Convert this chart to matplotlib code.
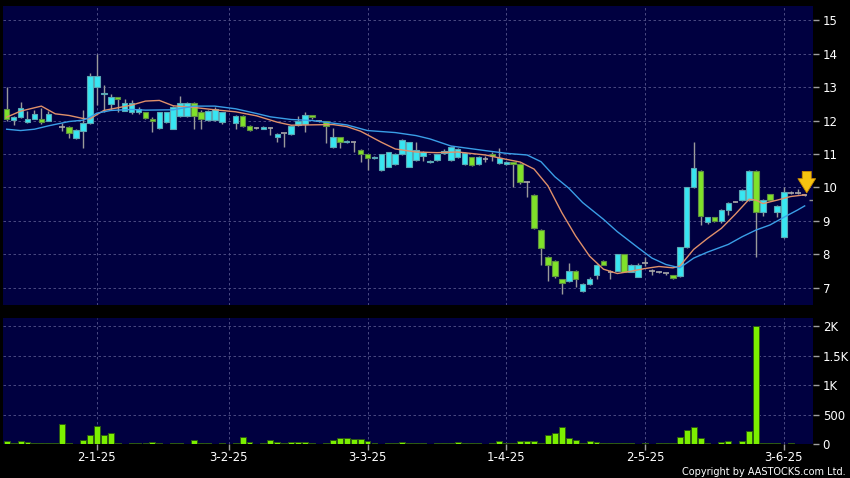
import numpy as np
import matplotlib
matplotlib.use('Agg')
import matplotlib.pyplot as plt

nan = np.nan

# daily OHLC (bar index 0..115), nan = no trade
opens = [12.33, 12.01, 12.11, 11.95, 12.06, 12.04, 12.00, nan, 11.80, 11.82,
         11.49, 11.70, 11.92, 13.01, 12.78, 12.48, 12.69, 12.29, 12.26, 12.25,
         12.24, 12.04, 11.77, 11.95, 11.76, 12.13, 12.13, 12.53, 12.24, 12.01,
         12.01, 11.95, nan, 11.92, 12.13, 11.84, 11.77, 11.75, 11.77, 11.50,
         11.62, 11.60, 11.86, 11.89, 12.16, 12.00, 11.98, 11.20, 11.50, 11.35,
         11.35, 11.12, 10.99, 10.87, 10.52, 10.62, 10.70, 11.00, 10.62, 10.82,
         10.94, 10.75, 10.82, 11.02, 10.82, 10.90, 10.69, 10.90, 10.69, 10.85,
         11.00, 10.72, 10.70, 10.75, 10.70, 10.16, 9.77, 8.73, 7.92, 7.81,
         7.26, 7.21, 7.52, 6.91, 7.11, 7.39, 7.81, 7.47, 7.52, 8.00,
         7.49, 7.34, 7.74, 7.50, 7.49, 7.44, 7.39, 7.36, 8.21, 10.00,
         10.50, 8.96, 9.11, 9.00, 9.33, 9.58, 9.63, 9.63, 10.50, 9.26,
         9.80, 9.26, 8.51, 9.84, 9.84, 9.78]
highs = [13.00, 12.13, 12.54, 12.29, 12.32, 12.36, 12.29, nan, 11.93, 11.84,
         11.74, 12.30, 13.41, 14.00, 13.06, 12.80, 12.70, 12.63, 12.60, 12.40,
         12.26, 12.10, 12.26, 12.26, 12.43, 12.73, 12.55, 12.55, 12.30, 12.30,
         12.40, 12.26, nan, 12.15, 12.15, 11.86, 11.80, 11.84, 11.80, 11.62,
         11.64, 11.86, 12.13, 12.26, 12.17, 12.02, 12.00, 11.77, 11.52, 11.42,
         11.37, 11.14, 11.00, 10.94, 11.00, 11.07, 11.02, 11.45, 11.37, 11.37,
         11.10, 10.83, 11.00, 11.15, 11.25, 11.17, 11.06, 10.92, 10.94, 10.95,
         11.05, 11.17, 10.78, 10.76, 10.72, 10.18, 9.80, 8.75, 7.94, 7.83,
         7.28, 7.74, 7.54, 7.14, 7.34, 7.72, 7.83, 7.54, 8.02, 8.02,
         7.71, 7.75, 7.93, 7.56, 7.52, 7.46, 7.40, 8.23, 10.02, 11.37,
         10.52, 9.13, 9.13, 9.35, 9.57, 9.60, 9.95, 10.52, 10.52, 9.65,
         9.82, 9.47, 10.00, 9.88, 9.95, 9.82]
lows = [12.00, 11.87, 12.08, 11.94, 12.04, 11.89, 11.98, nan, 11.70, 11.47,
        11.45, 11.18, 11.90, 12.46, 12.26, 12.31, 12.26, 12.27, 12.20, 12.20,
        12.05, 11.67, 11.74, 11.93, 11.74, 12.10, 12.10, 11.74, 11.74, 11.98,
        11.98, 11.90, nan, 11.74, 11.80, 11.70, 11.74, 11.74, 11.57, 11.37,
        11.22, 11.58, 11.84, 11.67, 12.05, 11.97, 11.32, 11.18, 11.19, 11.33,
        11.07, 10.75, 10.52, 10.85, 10.50, 10.60, 10.68, 10.98, 10.60, 10.80,
        10.80, 10.73, 10.80, 11.00, 10.80, 10.88, 10.67, 10.63, 10.67, 10.75,
        10.80, 10.70, 10.66, 10.02, 10.10, 9.71, 8.75, 7.69, 7.20, 7.30,
        6.82, 7.19, 7.04, 6.89, 7.09, 7.26, 7.67, 7.26, 7.50, 7.47,
        7.47, 7.32, 7.64, 7.38, 7.45, 7.40, 7.28, 7.33, 8.19, 9.98,
        8.88, 8.90, 8.98, 8.95, 9.18, 9.56, 9.61, 9.61, 7.93, 9.15,
        9.61, 9.12, 8.49, 9.80, 9.80, 9.76]
closes = [12.04, 12.11, 12.36, 12.05, 12.19, 11.97, 12.18, nan, 11.80, 11.64,
          11.72, 11.92, 13.33, 13.33, 12.83, 12.69, 12.63, 12.51, 12.51, 12.33,
          12.07, 11.98, 12.24, 12.24, 12.41, 12.53, 12.53, 12.13, 12.04, 12.28,
          12.33, 12.24, nan, 12.13, 11.84, 11.72, 11.77, 11.82, 11.77, 11.60,
          11.62, 11.84, 12.00, 12.16, 12.10, 12.00, 11.84, 11.50, 11.35, 11.40,
          11.35, 11.00, 10.89, 10.92, 10.99, 11.05, 11.00, 11.42, 11.35, 11.12,
          11.07, 10.80, 10.99, 11.10, 11.20, 11.15, 11.04, 10.67, 10.92, 10.85,
          10.94, 10.87, 10.77, 10.71, 10.16, 10.16, 8.78, 8.18, 7.69, 7.36,
          7.14, 7.52, 7.26, 7.12, 7.26, 7.69, 7.69, 7.48, 8.00, 7.49,
          7.69, 7.69, 7.74, 7.50, 7.49, 7.44, 7.31, 8.21, 10.00, 10.57,
          9.15, 9.11, 9.00, 9.33, 9.55, 9.58, 9.93, 10.50, 9.28, 9.63,
          9.63, 9.45, 9.85, 9.84, 9.84, 9.78]

# volume in thousand shares
volumes = [45, 17, 50, 40, 17, 15, 15, 15, 340, 10,
           5, 62, 160, 300, 150, 185, 15, 2, 22, 15,
           15, 30, 25, 2, 20, 10, 8, 70, 20, 20,
           3, 25, 4, 12, 120, 30, 5, 15, 65, 40,
           25, 40, 40, 30, 20, 5, 20, 60, 100, 100,
           80, 80, 50, 20, 5, 18, 15, 35, 15, 15,
           15, 5, 15, 10, 15, 35, 15, 15, 15, 2,
           15, 45, 20, 20, 55, 55, 55, 25, 160, 185,
           290, 100, 70, 15, 55, 30, 25, 25, 25, 15,
           15, 5, 10, 2, 10, 25, 25, 115, 245, 290,
           105, 15, 2, 40, 50, 2, 50, 220, 2000, 15,
           15, 15, 2, 25, 0, 0]

# moving averages
ma_short_idx = [0, 2, 5, 7, 9, 11, 12, 14, 16, 18, 20, 22, 24, 27, 30, 33, 36, 39,
                41, 44, 47, 49, 51, 54, 56, 59, 62, 65, 69, 72, 74, 76, 78, 80,
                82, 84, 86, 88, 90, 92, 94, 96, 97, 99, 101, 103, 105, 107, 108,
                109, 111, 113, 115]
ma_short = [12.10, 12.28, 12.43, 12.20, 12.15, 12.06, 12.05, 12.30, 12.38, 12.46,
            12.58, 12.60, 12.44, 12.39, 12.32, 12.26, 12.14, 11.95, 11.86, 11.87,
            11.88, 11.82, 11.68, 11.35, 11.15, 11.06, 11.04, 11.06, 10.97, 10.84,
            10.76, 10.55, 10.05, 9.25, 8.55, 7.95, 7.56, 7.43, 7.50, 7.58,
            7.64, 7.60, 7.65, 8.15, 8.48, 8.78, 9.20, 9.65, 9.62, 9.52,
            9.62, 9.73, 9.78]
ma_long_idx = [0, 2, 4, 6, 9, 11, 12, 13, 15, 18, 20, 24, 27, 30, 33, 36, 38, 41,
               44, 49, 52, 56, 59, 61, 64, 69, 72, 75, 77, 79, 81, 83, 86, 88,
               91, 93, 95, 97, 99, 101, 104, 106, 108, 110, 112, 114, 115]
ma_long = [11.74, 11.70, 11.74, 11.84, 11.97, 12.01, 12.10, 12.22, 12.30, 12.33,
           12.31, 12.32, 12.43, 12.43, 12.35, 12.21, 12.11, 12.03, 12.00, 11.87,
           11.70, 11.64, 11.55, 11.45, 11.24, 11.10, 11.02, 10.97, 10.77, 10.32,
           9.98, 9.55, 9.05, 8.68, 8.20, 7.89, 7.70, 7.60, 7.89, 8.07,
           8.30, 8.53, 8.73, 8.88, 9.11, 9.33, 9.45]

tick_idx = [13, 32, 52, 72, 92, 112]
tick_labels = ['2-1-25', '3-2-25', '3-3-25', '1-4-25', '2-5-25', '3-6-25']
price_ticks = [7, 8, 9, 10, 11, 12, 13, 14, 15]
vol_ticks = [0, 500, 1000, 1500, 2000]
vol_labels = ['0', '500', '1K', '1.5K', '2K']
last_marker = 9.63
arrow_top, arrow_tip = 10.48, 9.84

BG = '#000040'
UP = '#38e6f2'
UP_EDGE = '#5aa8b4'
DOWN = '#80e22a'
DOWN_EDGE = '#5e9040'
WICK = '#9a9a9a'
GRID = '#55558c'

o = np.array(opens)
h = np.array(highs)
l = np.array(lows)
c = np.array(closes)
x = np.arange(len(o))
valid = ~np.isnan(o)
diff = np.where(valid, c - o, 0)
up = valid & (diff >= 0.02)
down = valid & (diff <= -0.02)
doji = valid & ~up & ~down

fig = plt.figure(figsize=(8.5, 4.78), dpi=100, facecolor='black')
ax = fig.add_axes([3/850, 1 - 305/478, 810/850, 299/478], facecolor=BG)
axv = fig.add_axes([3/850, 1 - 444/478, 810/850, 126/478], facecolor=BG, sharex=ax)

# PRICE PANEL
ax.vlines(x[valid], l[valid], h[valid], color=WICK, lw=1, zorder=2)
ax.bar(x[up], (c - o)[up], bottom=o[up], width=0.8, color=UP, edgecolor=UP_EDGE, lw=0.8, zorder=3)
ax.bar(x[down], (o - c)[down], bottom=c[down], width=0.8, color=DOWN, edgecolor=DOWN_EDGE, lw=0.8, zorder=3)
ax.hlines(c[doji], x[doji] - 0.4, x[doji] + 0.4, color='#a8a8a8', lw=1.2, zorder=3)

ax.plot(ma_short_idx, ma_short, color='#e0906a', lw=1.0, zorder=4)
ax.plot(ma_long_idx, ma_long, color='#3a9ee6', lw=1.0, zorder=4)

ax.hlines(last_marker, len(o) - 0.4, len(o) + 0.2, color='#909090', lw=1, zorder=4)
ax.annotate('', xy=(len(o) - 0.7, arrow_tip), xytext=(len(o) - 0.7, arrow_top),
            arrowprops=dict(arrowstyle='simple,head_length=0.6,head_width=0.75,tail_width=0.38',
                            fc='#f6c410', ec='#c88a00', lw=0.6, shrinkA=0, shrinkB=0,
                            mutation_scale=17), zorder=6)

ax.set_xlim(-0.53, 116.2)
ax.set_ylim(6.49, 15.42)
ax.set_yticks(price_ticks)
ax.yaxis.tick_right()
ax.set_xticks(tick_idx)
ax.tick_params(axis='x', length=0, labelbottom=False)
ax.tick_params(axis='y', colors='#a0a0a0', labelcolor='white', length=4, width=1, pad=3, labelsize=8.5)
ax.grid(True, color=GRID, linestyle=(0, (3, 3)), lw=0.6)
ax.set_axisbelow(True)
for s in ax.spines.values():
    s.set_visible(False)

# VOLUME PANEL
axv.bar(x, volumes, width=0.85, color='#7cf000', edgecolor='#2c5a12', lw=0.7, zorder=3)
axv.set_ylim(0, 2140)
axv.set_yticks(vol_ticks)
axv.set_yticklabels(vol_labels)
axv.yaxis.tick_right()
axv.set_xticks(tick_idx)
axv.set_xticklabels(tick_labels)
axv.tick_params(axis='x', colors='#a0a0a0', labelcolor='white', length=4, width=1, pad=1, labelsize=8.5)
axv.tick_params(axis='y', colors='#a0a0a0', labelcolor='white', length=4, width=1, pad=3, labelsize=8.5)
axv.grid(True, color=GRID, linestyle=(0, (3, 3)), lw=0.6)
axv.set_axisbelow(True)
for s in axv.spines.values():
    s.set_visible(False)

fig.text(0.995, 0.003, 'Copyright by AASTOCKS.com Ltd.', color='white', fontsize=7,
         ha='right', va='bottom')

fig.savefig('out.png', dpi=100, facecolor='black')
